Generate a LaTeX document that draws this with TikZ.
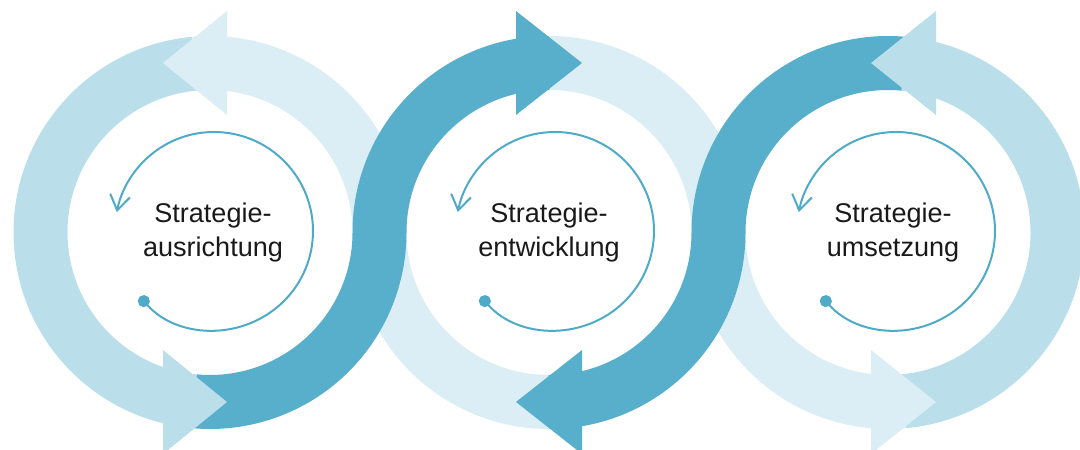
\documentclass[tikz,border=0pt]{standalone}
\usepackage{fontspec}
\setmainfont{Liberation Sans}
\usetikzlibrary{arrows.meta}
\usetikzlibrary{calc}
\definecolor{cycdark}{HTML}{57AFCC}
\definecolor{cycmid}{HTML}{BADFEA}
\definecolor{cycpale}{HTML}{DBEEF5}
\definecolor{cycline}{HTML}{4FAAC8}
\tikzset{
    cycbody/.style={line width=10.8mm},
    cycinner/.style={cycline, line width=0.4mm, {Circle[length=2.4mm]}-{Straight Barb[length=3mm,width=4mm]}},
    cyctext/.style={align=center, text=black!90, font=\fontsize{15.4}{19.9}\selectfont}
}

\begin{document}
\begin{tikzpicture}[x=0.2mm,y=0.2mm]
        \newcommand{\figcycmidrad}{169.5}
        \newcommand{\figcycy}{217.5}
        \newcommand{\figcyctopy}{\figcycy+\figcycmidrad}
        \newcommand{\figcycboty}{\figcycy-\figcycmidrad}
        \newcommand{\figcycheadhalf}{52}
        \newcommand{\figcycinrad}{99}
        \useasboundingbox (0,0) rectangle (1080,450);
        \coordinate (cyca) at (210,\figcycy);
        \coordinate (cycb) at (549,\figcycy);
        \coordinate (cycc) at (888,\figcycy);
        % ring bodies
        \draw[cycmid, cycbody] ($(cyca)+(95.1:\figcycmidrad)$) arc[start angle=95.1, end angle=264.9, radius=\figcycmidrad];
        \draw[cycmid, cycbody] ($(cycc)+(-84.8:\figcycmidrad)$) arc[start angle=-84.8, end angle=84.8, radius=\figcycmidrad];
        \draw[cycpale, cycbody] ($(cycb)+(270:\figcycmidrad)$) arc[start angle=270, end angle=180, radius=\figcycmidrad] arc[start angle=0, end angle=95.1, radius=\figcycmidrad];
        \draw[cycpale, cycbody] ($(cycb)+(90:\figcycmidrad)$) arc[start angle=90, end angle=0, radius=\figcycmidrad] arc[start angle=180, end angle=275.2, radius=\figcycmidrad];
        \draw[cycdark, cycbody] ($(cyca)+(264.9:\figcycmidrad)$) arc[start angle=264.9, end angle=360, radius=\figcycmidrad] arc[start angle=180, end angle=90, radius=\figcycmidrad];
        \draw[cycdark, cycbody] ($(cycc)+(84.8:\figcycmidrad)$) arc[start angle=84.8, end angle=180, radius=\figcycmidrad] arc[start angle=0, end angle=-90, radius=\figcycmidrad];
        % arrow heads
        \fill[cycpale] (227,\figcyctopy+\figcycheadhalf) -- (163,\figcyctopy) -- (227,\figcyctopy-\figcycheadhalf) -- cycle;
        \fill[cycmid] (163,\figcycboty+\figcycheadhalf) -- (227,\figcycboty) -- (163,\figcycboty-\figcycheadhalf) -- cycle;
        \fill[cycdark] (516,\figcyctopy+\figcycheadhalf) -- (582,\figcyctopy) -- (516,\figcyctopy-\figcycheadhalf) -- cycle;
        \fill[cycdark] (582,\figcycboty+\figcycheadhalf) -- (516,\figcycboty) -- (582,\figcycboty-\figcycheadhalf) -- cycle;
        \fill[cycmid] (936,\figcyctopy+\figcycheadhalf) -- (871,\figcyctopy) -- (936,\figcyctopy-\figcycheadhalf) -- cycle;
        \fill[cycpale] (871,\figcycboty+\figcycheadhalf) -- (936,\figcycboty) -- (871,\figcycboty-\figcycheadhalf) -- cycle;
        % inner loops
        \draw[cycinner] ($(cyca)+(4,1.5)+(221.5:\figcycinrad)$) arc[start angle=221.5, end angle=529, radius=\figcycinrad];
        \draw[cycinner] ($(cycb)+(6,1.5)+(221.5:\figcycinrad)$) arc[start angle=221.5, end angle=529, radius=\figcycinrad];
        \draw[cycinner] ($(cycc)+(8,1.5)+(221.5:\figcycinrad)$) arc[start angle=221.5, end angle=529, radius=\figcycinrad];
        % labels
        \node[cyctext] (ausrichtung) at (213,\figcycy) {Strategie-\\ausrichtung};
        \node[cyctext] (entwicklung) at (549,\figcycy) {Strategie-\\entwicklung};
        \node[cyctext] (umsetzung) at (893,\figcycy) {Strategie-\\umsetzung};
    \end{tikzpicture}
\end{document}
